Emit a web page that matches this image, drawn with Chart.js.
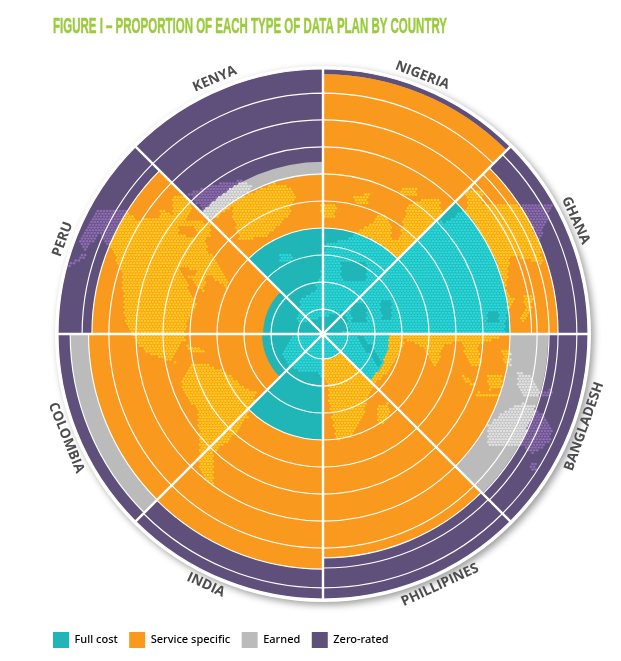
<!DOCTYPE html>
<html>
<head>
<meta charset="utf-8">
<style>html,body{margin:0;padding:0;background:#fff}#w{position:relative;width:621px;height:661px}</style>
<script src="https://cdn.jsdelivr.net/npm/chart.js@4/dist/chart.umd.min.js"></script>
</head>
<body>
<div id="w"><canvas id="c" width="621" height="661"></canvas></div>
<script>
const titleText = 'FIGURE I \u2013 PROPORTION OF EACH TYPE OF DATA PLAN BY COUNTRY';
const countries = ['NIGERIA','GHANA','BANGLADESH','PHILLIPINES','INDIA','COLOMBIA','PERU','KENYA'];
const seriesNames = ['Full cost','Service specific','Earned','Zero-rated'];
// Share of plans in each country, percent
const fullCost        = [40, 70.7, 25, 9.5, 40, 23, 22.6, 40];
const serviceSpecific = [58, 18, 45.7, 75, 48.7, 65.5, 64.6, 20];
const earned          = [0, 0, 14.3, 0, 0, 6.9, 0, 5];
const zeroRated       = [2, 11.3, 15, 15.5, 11.3, 4.6, 12.8, 35];
// Ring lines shared by all countries
const ringTicks = [0, 9.4, 19.6, 29.8, 40, 50.2, 60.4, 70.6, 80.8, 100];
// Ring lines found only in some countries (0 = none)
const ringA = [90.9, 0, 0, 0, 0, 0, 90.9, 90.9];
const ringB = [33.2, 0, 0, 0, 0, 0, 0, 0];
const ringC = [0, 78.7, 0, 0, 0, 0, 0, 0];
const ringD = [0, 85.3, 85.3, 84.5, 0, 0, 0, 0];
const ringE = [0, 88.7, 88.7, 88.3, 88.7, 88.5, 87.2, 0];
const ringF = [0, 95.8, 95.8, 95.8, 95.8, 95.4, 0, 0];
const labelAngles = [21, 65.8, 109.5, 155, 205, 248, 290, 337];

const COLORS = ['#20B5B7','#F9991D','#BBBBBB','#5F4F7B'];
const DOTS   = ['#2BD8DA','#FFCC1E','#E2E2E2','#8F6CB4'];
const INK = '#4D4D4F';

// Decorative world map behind the bands (page pixels)
const LAND = [
 [[78,242],[90,220],[98,210],[127,210],[137,220],[160,217],[160,207],[173,217],[172,197],[187,197],[193,207],[187,220],[210,223],[210,247],[232,293],[207,273],[203,293],[180,267],[197,307],[187,320],[185,340],[172,358],[183,370],[175,363],[163,358],[147,353],[135,340],[125,320],[122,273],[112,250],[100,235],[85,250]],
 [[68,264],[85,253],[87,256],[70,267]],
 [[233,200],[253,193],[273,183],[290,187],[297,197],[287,217],[267,237],[240,240],[233,217]],
 [[187,193],[220,183],[240,180],[253,187],[240,200],[217,217],[203,217],[200,207]],
 [[193,363],[210,365],[227,373],[243,387],[257,393],[248,417],[230,440],[213,453],[213,487],[207,480],[200,470],[200,443],[197,410],[182,390],[183,380]],
 [[185,345],[205,350],[203,354],[188,350]],
 [[297,323],[300,300],[315,290],[323,265],[327,243],[345,240],[375,220],[373,217],[385,215],[400,235],[407,205],[425,198],[440,200],[443,225],[470,205],[500,205],[520,203],[553,203],[540,240],[543,265],[530,260],[510,255],[506,290],[515,300],[505,320],[506,335],[478,345],[482,368],[470,365],[460,340],[445,345],[435,368],[420,345],[405,340],[395,360],[385,375],[375,350],[360,335],[330,330]],
 [[290,338],[282,352],[285,362],[300,372],[318,372],[328,385],[330,410],[336,440],[350,438],[362,420],[368,395],[385,372],[378,365],[362,345],[355,335],[300,332]],
 [[378,405],[388,403],[390,412],[383,425],[378,422]],
 [[353,197],[370,193],[368,203],[356,203]],[[320,205],[337,203],[335,217],[322,217]],[[400,187],[417,187],[417,197],[402,197]],
 [[463,190],[483,190],[483,203],[468,203]],[[280,255],[293,255],[293,263],[280,263]],
 [[523,293],[533,296],[531,312],[524,323],[519,320],[525,308]],
 [[462,373],[477,385],[473,387],[460,377]],[[477,392],[500,395],[500,398],[477,396]],
 [[487,375],[502,373],[502,388],[490,390]],[[502,350],[510,350],[512,367],[505,367]],
 [[517,372],[530,375],[540,392],[552,388],[553,397],[525,397],[517,388]],
 [[488,425],[505,410],[522,403],[535,405],[553,428],[550,442],[533,455],[520,445],[495,447],[488,445]],
 [[530,462],[537,462],[537,470],[531,470]]
];
const WATER = [
 [[178,225],[197,228],[197,237],[180,235]],[[206,237],[218,237],[218,255],[208,255]],[[180,267],[197,270],[195,277],[182,275]],
 [[380,300],[392,300],[392,320],[382,320]],[[340,263],[366,263],[366,280],[342,280]],[[350,303],[367,303],[367,323],[352,323]],
 [[392,227],[400,227],[400,240],[392,240]],[[488,312],[498,312],[498,322],[488,322]],[[297,323],[345,312],[350,332],[300,332]]
];
function inside(p, x, y){
  let c = false;
  for (let i = 0, j = p.length - 1; i < p.length; j = i++) {
    if ((p[i][1] > y) !== (p[j][1] > y) && x < (p[j][0]-p[i][0])*(y-p[i][1])/(p[j][1]-p[i][1])+p[i][0]) c = !c;
  }
  return c;
}
const stacks = [fullCost, serviceSpecific, earned, zeroRated];
const cumulative = stacks.map((s, k) => s.map((_, i) => stacks.slice(0, k + 1).reduce((a, b) => a + b[i], 0)));

const mapPlugin = {
  id: 'mapDots',
  afterDatasetDraw(chart, args) {
    if (args.index !== 6) return;
    const s = chart.scales.r, ctx = chart.ctx, R = s.drawingArea;
    ctx.save();
    const dx = 3.15, dy = 2.75;
    let row = 0;
    for (let y = 178; y < 490; y += dy, row++) {
      for (let x = 60 + (row % 2 ? dx / 2 : 0); x < 590; x += dx) {
        const vx = x - s.xCenter, vy = y - s.yCenter, r = Math.hypot(vx, vy);
        if (r >= R) continue;
        if (!LAND.some(p => inside(p, x, y)) || WATER.some(p => inside(p, x, y))) continue;
        let a = Math.atan2(vx, -vy); if (a < 0) a += Math.PI * 2;
        const i = Math.min(7, Math.floor(a / (Math.PI / 4)));
        const pct = s.getValueForDistanceFromCenter(r);
        let k = 0; while (k < 3 && pct > cumulative[k][i]) k++;
        ctx.fillStyle = DOTS[k];
        ctx.beginPath(); ctx.arc(x, y, 1.35, 0, Math.PI * 2); ctx.fill();
      }
    }
    ctx.restore();
  }
};
const backdropPlugin = {
  id: 'backdrop',
  beforeDatasetsDraw(chart) {
    const s = chart.scales.r, ctx = chart.ctx;
    ctx.save();
    ctx.shadowColor = 'rgba(0,0,0,0.38)'; ctx.shadowBlur = 7; ctx.shadowOffsetX = 3; ctx.shadowOffsetY = 3;
    ctx.fillStyle = '#fff';
    ctx.beginPath(); ctx.arc(s.xCenter, s.yCenter, s.drawingArea + 3, 0, Math.PI * 2); ctx.fill();
    ctx.restore();
  }
};
const textPlugin = {
  id: 'texts',
  afterLayout(chart) { chart.legend.top = 620.5; chart.legend.bottom = 655; },
  afterDraw(chart) {
    const s = chart.scales.r, ctx = chart.ctx;
    ctx.save();
    ctx.fillStyle = '#9BCB3C'; ctx.textBaseline = 'alphabetic'; ctx.textAlign = 'left';
    ctx.font = 'bold 22px "Liberation Sans Narrow", "Liberation Sans"';
    const w = ctx.measureText(titleText).width;
    ctx.translate(53, 33); ctx.scale(394 / w, 1);
    ctx.strokeStyle = '#9BCB3C'; ctx.lineWidth = 0.5;
    ctx.strokeText(chart.options.plugins.title.text, 0, 0);
    ctx.fillText(chart.options.plugins.title.text, 0, 0);
    ctx.restore();
    ctx.save();
    ctx.fillStyle = INK; ctx.font = 'bold 13.8px "Open Sans"'; ctx.textAlign = 'center'; ctx.textBaseline = 'middle';
    countries.forEach((name, i) => {
      const a = labelAngles[i] * Math.PI / 180, lower = a > Math.PI / 2 && a < 3 * Math.PI / 2;
      ctx.save();
      ctx.translate(s.xCenter + 277 * Math.sin(a), s.yCenter - 277 * Math.cos(a));
      ctx.rotate(lower ? a - Math.PI : a);
      ctx.fillText(name, 0, 0);
      ctx.restore();
    });
    ctx.restore();
  }
};
const ringSet = (d) => ({ data: d, backgroundColor: 'rgba(0,0,0,0)', borderColor: '#fff', borderWidth: 1.15 });
const fillSet = (k) => ({ label: seriesNames[k], data: cumulative[k], backgroundColor: COLORS[k], borderWidth: 0 });

new Chart(document.getElementById('c'), {
  type: 'polarArea',
  data: {
    labels: countries,
    datasets: [ringA, ringB, ringC, ringD, ringE, ringF].map(ringSet).concat([0, 1, 2, 3].map(fillSet))
  },
  options: {
    responsive: false,
    animation: false,
    events: [],
    layout: { padding: { left: 41.5, right: 15, top: 69, bottom: 24.5 } },
    scales: {
      r: {
        min: 0, max: 100,
        afterBuildTicks(sc) { sc.ticks = ringTicks.map(v => ({ value: v })); },
        ticks: { display: false },
        pointLabels: { display: false },
        grid: { circular: true, color: '#fff', lineWidth: 1.15, z: 1 },
        angleLines: { display: true, color: '#fff', lineWidth: 2.4 }
      }
    },
    plugins: {
      tooltip: { enabled: false },
      title: { display: false, text: titleText },
      legend: {
        position: 'bottom', align: 'start',
        labels: {
          padding: 11.5, boxWidth: 16, boxHeight: 16, color: INK,
          font: { family: '"Noto Sans"', size: 11, weight: '500' },
          generateLabels: () => seriesNames.map((t, k) => ({ text: t, fillStyle: COLORS[k], strokeStyle: COLORS[k], lineWidth: 0, hidden: false, datasetIndex: 6 + k }))
        }
      }
    }
  },
  plugins: [backdropPlugin, mapPlugin, textPlugin]
});
</script>
</body>
</html>
